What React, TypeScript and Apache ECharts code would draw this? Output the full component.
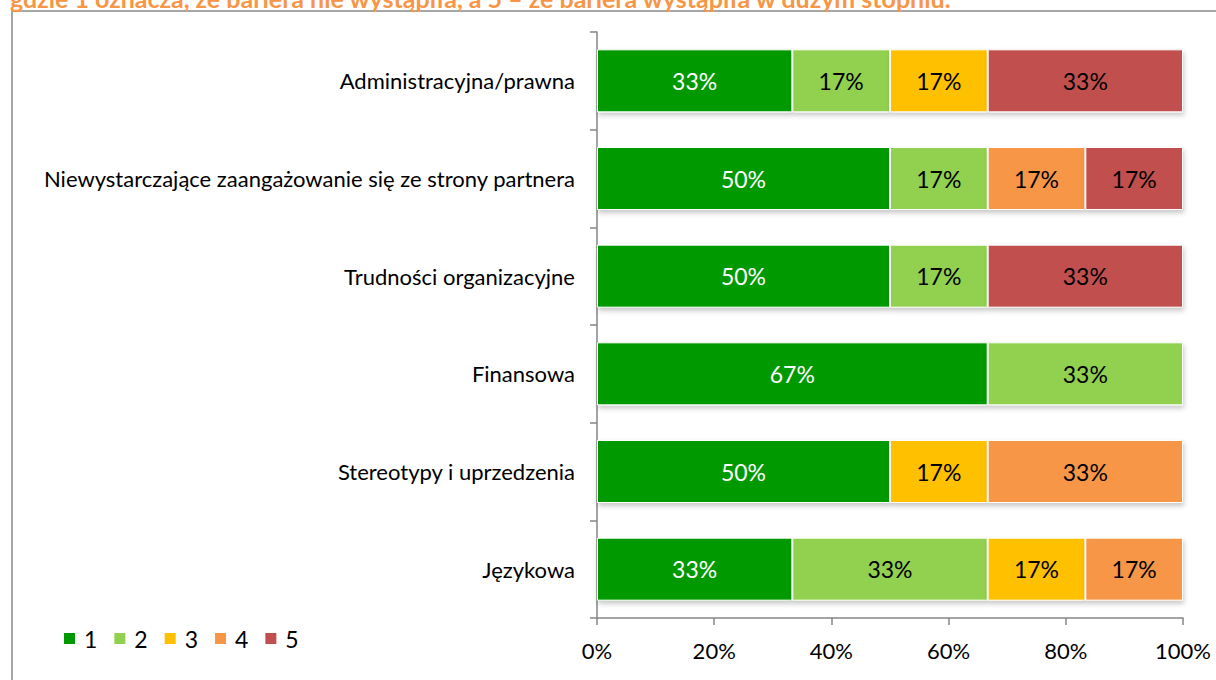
import React, { useEffect, useRef } from "react";
import * as echarts from "echarts";

const title = "gdzie 1 oznacza, że bariera nie wystąpiła, a 5 – że bariera wystąpiła w dużym stopniu.";

const categories = [
  "Administracyjna/prawna",
  "Niewystarczające zaangażowanie się ze strony partnera",
  "Trudności organizacyjne",
  "Finansowa",
  "Stereotypy i uprzedzenia",
  "Językowa",
];

const seriesNames = ["1", "2", "3", "4", "5"];

const values1 = [33.33, 50, 50, 66.67, 50, 33.33];
const values2 = [16.67, 16.67, 16.67, 33.33, 0, 33.33];
const values3 = [16.67, 0, 0, 0, 16.67, 16.67];
const values4 = [0, 16.66, 0, 0, 33.33, 16.67];
const values5 = [33.33, 16.67, 33.33, 0, 0, 0];

const colors = ["#009900", "#92D050", "#FFC000", "#F79646", "#C0504D"];
const labelColors = ["#ffffff", "#000000", "#000000", "#000000", "#000000"];

const xTicks = [0, 20, 40, 60, 80, 100];

const FONT = "Lato, 'Open Sans', sans-serif";

export default function App() {
  const ref = useRef<HTMLDivElement>(null);

  useEffect(() => {
    if (!ref.current) return;
    const chart = echarts.init(ref.current, undefined, { renderer: "svg" });
    const allValues = [values1, values2, values3, values4, values5];
    const series = allValues.map((vals, i) => ({
      name: seriesNames[i],
      type: "bar",
      stack: "total",
      barWidth: 63,
      data: vals.map((v) => (v === 0 ? null : v)),
      itemStyle: {
        color: colors[i],
        borderColor: "#ffffff",
        borderWidth: 1,
        shadowColor: "rgba(0,0,0,0.22)",
        shadowBlur: 5,
        shadowOffsetY: 3,
        shadowOffsetX: 1,
      },
      label: {
        show: true,
        position: "inside",
        color: labelColors[i],
        fontFamily: FONT,
        fontSize: 23,
        formatter: (p: any) => `${Math.round(p.value)}%`,
      },
    }));

    chart.setOption({
      animation: false,
      backgroundColor: "#ffffff",
      textStyle: { fontFamily: FONT },
      graphic: [
        {
          type: "rect",
          shape: { x: 12, y: 11, width: 1300, height: 800 },
          style: { fill: "none", stroke: "#8a8a8a", lineWidth: 1.5 },
          silent: true,
        },
        {
          type: "text",
          left: 10,
          top: -15,
          style: {
            text: title,
            fill: "#F79646",
            font: `bold 25px ${FONT}`,
          },
        },
      ],
      legend: {
        left: 62,
        top: 627,
        padding: 0,
        itemWidth: 13,
        itemHeight: 13,
        itemGap: 15,
        icon: "rect",
        data: seriesNames,
        textStyle: { fontSize: 23, color: "#000", fontFamily: FONT, padding: [0, 0, 0, 3] },
      },
      grid: { left: 597, right: 33, top: 32, bottom: 62, containLabel: false },
      xAxis: {
        type: "value",
        min: 0,
        max: 100,
        interval: 20,
        axisLine: { show: true, lineStyle: { color: "#868686", width: 1.5 } },
        axisTick: { show: true, length: 7, lineStyle: { color: "#868686", width: 1.5 } },
        splitLine: { show: false },
        axisLabel: {
          color: "#000",
          fontSize: 22,
          fontFamily: FONT,
          margin: 21,
          formatter: (v: number) => (xTicks.includes(v) ? `${v}%` : ""),
        },
      },
      yAxis: {
        type: "category",
        inverse: true,
        data: categories,
        axisLine: { show: true, lineStyle: { color: "#868686", width: 1.5 } },
        axisTick: { show: true, length: 7, lineStyle: { color: "#868686", width: 1.5 } },
        axisLabel: { color: "#000", fontSize: 22, fontFamily: FONT, margin: 22 },
      },
      series,
    });
    return () => chart.dispose();
  }, []);

  return (
    <div style={{ position: "fixed", left: 0, top: 0, width: 1216, height: 680, background: "#fff" }}>
      <div ref={ref} style={{ width: 1216, height: 680 }} />
    </div>
  );
}
